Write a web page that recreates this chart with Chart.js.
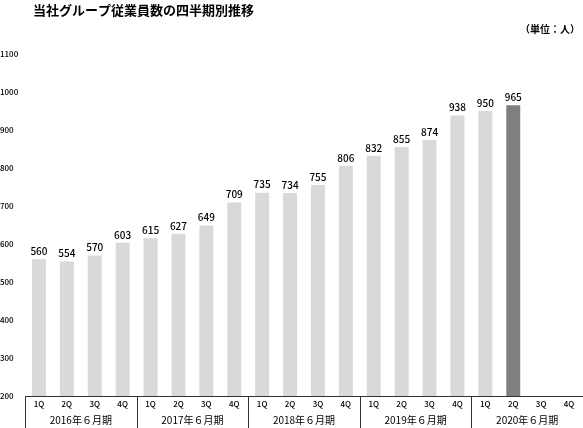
<!DOCTYPE html>
<html>
<head>
<meta charset="utf-8">
<script src="https://cdn.jsdelivr.net/npm/chart.js@4/dist/chart.umd.min.js"></script>
<style>
  html, body { margin: 0; padding: 0; background: #fff; }
  #wrap { width: 583px; height: 428px; position: relative; }
</style>
</head>
<body>
<div id="wrap"><canvas id="chart"></canvas></div>
<script>
const quarters = ["1Q","2Q","3Q","4Q","1Q","2Q","3Q","4Q","1Q","2Q","3Q","4Q","1Q","2Q","3Q","4Q","1Q","2Q","3Q","4Q"];
const years = ["2016年６月期","2017年６月期","2018年６月期","2019年６月期","2020年６月期"];
const employees = [560,554,570,603, 615,627,649,709, 735,734,755,806, 832,855,874,938, 950,965,null,null];
const highlightIndex = 17;

const FONT = "'Noto Sans CJK JP', 'Noto Sans', sans-serif";

const overlay = {
  id: "overlay",
  afterDraw(chart) {
    const ctx = chart.ctx;
    const x = chart.scales.x, y = chart.scales.y;
    const area = chart.chartArea;
    ctx.save();
    // title + unit
    ctx.fillStyle = "#000";
    ctx.font = "bold 13px " + FONT;
    ctx.textAlign = "left"; ctx.textBaseline = "middle";
    ctx.fillText("当社グループ従業員数の四半期別推移", 33, 10);
    ctx.font = "bold 10px " + FONT;
    ctx.textAlign = "right";
    ctx.fillText("（単位：人）", 580, 29);

    // value labels
    ctx.font = "500 10px " + FONT;
    ctx.textAlign = "center"; ctx.textBaseline = "bottom";
    employees.forEach((v, i) => {
      if (v == null) return;
      ctx.fillText(String(v), x.getPixelForValue(i), y.getPixelForValue(v) - 3);
    });

    // category box
    const bottom = area.bottom;
    const step = x.getPixelForValue(1) - x.getPixelForValue(0);
    ctx.strokeStyle = "#333"; ctx.lineWidth = 1;
    ctx.beginPath();
    ctx.moveTo(area.left, bottom + 0.5); ctx.lineTo(area.right, bottom + 0.5);
    for (let g = 0; g <= years.length; g++) {
      const px = Math.round(x.getPixelForValue(g * 4) - step / 2) + 0.5;
      ctx.moveTo(px, bottom); ctx.lineTo(px, chart.height);
    }
    ctx.stroke();

    // year labels
    ctx.font = "10px " + FONT;
    ctx.textBaseline = "middle";
    years.forEach((label, g) => {
      const cx = (x.getPixelForValue(g * 4) + x.getPixelForValue(g * 4 + 3)) / 2;
      ctx.fillText(label, cx, bottom + 24);
    });
    ctx.restore();
  }
};

new Chart(document.getElementById("chart"), {
  type: "bar",
  data: {
    labels: quarters,
    datasets: [{
      data: employees,
      backgroundColor: employees.map((v, i) => i === highlightIndex ? "#7f7f7f" : "#d9d9d9"),
      categoryPercentage: 1,
      barPercentage: 0.5
    }]
  },
  options: {
    responsive: true,
    maintainAspectRatio: false,
    animation: false,
    layout: { padding: { top: 54, right: 0, left: 0, bottom: 0 } },
    plugins: { legend: { display: false }, tooltip: { enabled: false } },
    scales: {
      x: {
        grid: { display: false, drawTicks: false },
        border: { display: false },
        ticks: { color: "#000", font: { family: FONT, size: 8, weight: "500" }, padding: 3, maxRotation: 0, autoSkip: false },
        afterFit(scale) { scale.height = 32; }
      },
      y: {
        min: 200, max: 1100,
        grid: { display: false, drawTicks: false },
        border: { display: false },
        ticks: { stepSize: 100, color: "#000", font: { family: FONT, size: 8, weight: "500" }, padding: 0, crossAlign: "far",
                 callback: v => String(v) },
        afterFit(scale) { scale.width = 25; }
      }
    }
  },
  plugins: [overlay]
});
</script>
</body>
</html>
